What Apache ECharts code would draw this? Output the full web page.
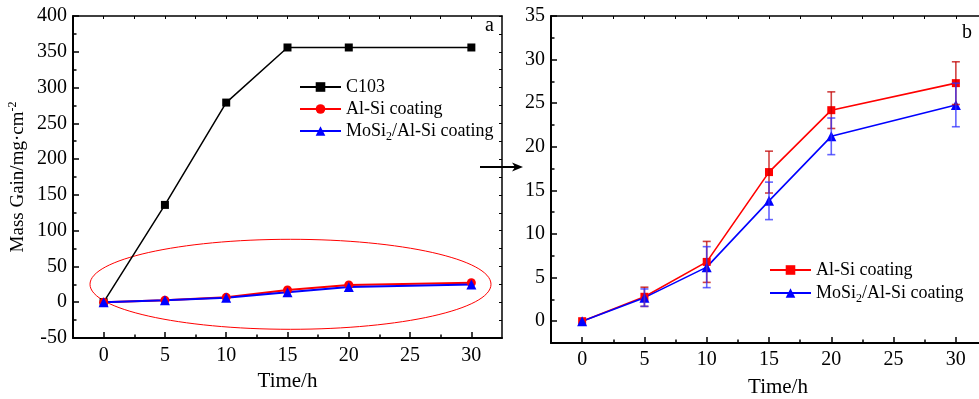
<!DOCTYPE html>
<html>
<head>
<meta charset="utf-8">
<script src="https://cdn.jsdelivr.net/npm/echarts@6/dist/echarts.min.js"></script>
<style>
html,body{margin:0;padding:0;background:#fff;}
#chart{width:979px;height:399px;}
</style>
</head>
<body>
<div id="chart"></div>
<script>
// ---- data ----
const times = [0, 5, 10, 15, 20, 30];
const c103 = [0, 136, 279, 356, 356, 356];
const alsi = [0, 2.8, 6.8, 17.1, 24.2, 27.3];
const mosi = [0, 2.7, 6.2, 13.8, 21.2, 24.8];
const alsiErr = [0, 1.1, 2.35, 2.4, 2.1, 2.45];
const mosiErr = [0, 1.0, 2.35, 2.15, 2.1, 2.5];
const xMajor = [0, 5, 10, 15, 20, 25, 30];
const xMinor = [2.5, 7.5, 12.5, 17.5, 22.5, 27.5];
const yRightMajor = [0, 5, 10, 15, 20, 25, 30, 35];
const yRightMinor = [2.5, 7.5, 12.5, 17.5, 22.5, 27.5, 32.5];
const legendNames = {
  'C103': 'C103',
  'Al-Si coating': 'Al-Si coating',
  'MoSi2/Al-Si coating': 'MoSi2/Al-Si coating',
  'Al-Si coating (b)': 'Al-Si coating',
  'MoSi2/Al-Si coating (b)': 'MoSi2/Al-Si coating'
};

const FONT = "'Liberation Serif', 'Times New Roman', serif";
const pair = (xs, ys) => xs.map((x, i) => [x, ys[i]]);
const triple = (xs, ys, es) => xs.map((x, i) => [x, ys[i], es[i]]);

function legendFmt(name) {
  const n = legendNames[name] || name;
  if (n.indexOf('MoSi2') === 0) {
    return '{n|MoSi}{sub|2}{n|' + n.slice(5) + '}';
  }
  return '{n|' + n + '}{sub| }';
}
const legendRich = {
  n: {fontFamily: FONT, fontSize: 18, color: '#000', lineHeight: 22},
  sub: {fontFamily: FONT, fontSize: 12, color: '#000', lineHeight: 10, padding: [12, 0, 0, 0]}
};

function errRender(color) {
  return function (params, api) {
    const x = api.value(0), y = api.value(1), e = api.value(2);
    if (!e) return null;
    const top = api.coord([x, y + e]);
    const bot = api.coord([x, y - e]);
    const hw = 4;
    const style = {stroke: color, lineWidth: 1.6, opacity: 0.75};
    return {
      type: 'group',
      children: [
        {type: 'line', shape: {x1: top[0], y1: top[1], x2: bot[0], y2: bot[1]}, style: style},
        {type: 'line', shape: {x1: top[0] - hw, y1: top[1], x2: top[0] + hw, y2: top[1]}, style: style},
        {type: 'line', shape: {x1: bot[0] - hw, y1: bot[1], x2: bot[0] + hw, y2: bot[1]}, style: style}
      ]
    };
  };
}

const axisLineBold = {show: true, onZero: false, lineStyle: {color: '#000', width: 2}};
const axisLineThin = {show: true, onZero: false, lineStyle: {color: '#000', width: 1.5}};
const noLine = {show: false, onZero: false};
const labelStyle = {fontFamily: FONT, fontSize: 20, color: '#000'};

const chart = echarts.init(document.getElementById('chart'), null, {renderer: 'canvas'});
chart.setOption({
  animation: false,
  backgroundColor: '#fff',
  grid: [
    {left: 73, top: 16, width: 429, height: 322, outerBoundsMode: 'none', containLabel: false},
    {left: 551, top: 16, width: 436, height: 327, outerBoundsMode: 'none', containLabel: false}
  ],
  xAxis: [
    {gridIndex: 0, type: 'value', min: -2.5, max: 32.5, position: 'bottom',
      axisLine: axisLineBold, splitLine: {show: false},
      axisTick: {show: true, inside: true, length: 6, customValues: xMajor, lineStyle: {color: '#000', width: 1.5}},
      axisLabel: Object.assign({customValues: xMajor, margin: 8}, labelStyle),
      name: 'Time/h', nameLocation: 'middle', nameGap: 29,
      nameTextStyle: {fontFamily: FONT, fontSize: 21, color: '#000'}},
    {gridIndex: 0, type: 'value', min: -2.5, max: 32.5, position: 'bottom',
      axisLine: noLine, splitLine: {show: false}, axisLabel: {show: false},
      axisTick: {show: true, inside: true, length: 3.5, customValues: xMinor, lineStyle: {color: '#000', width: 1.5}}},
    {gridIndex: 0, type: 'value', min: -2.5, max: 32.5, position: 'top',
      axisLine: axisLineThin, splitLine: {show: false}, axisLabel: {show: false},
      axisTick: {show: true, inside: true, length: 3, customValues: xMajor.concat(xMinor), lineStyle: {color: '#000', width: 1}}},
    {gridIndex: 1, type: 'value', min: -2.5, max: 32.5, position: 'bottom',
      axisLine: axisLineBold, splitLine: {show: false},
      axisTick: {show: true, inside: true, length: 6, customValues: xMajor, lineStyle: {color: '#000', width: 1.5}},
      axisLabel: Object.assign({customValues: xMajor, margin: 7}, labelStyle),
      name: 'Time/h', nameLocation: 'middle', nameGap: 34,
      nameTextStyle: {fontFamily: FONT, fontSize: 21, color: '#000', padding: [0, 0, 0, 18]}},
    {gridIndex: 1, type: 'value', min: -2.5, max: 32.5, position: 'bottom',
      axisLine: noLine, splitLine: {show: false}, axisLabel: {show: false},
      axisTick: {show: true, inside: true, length: 3.5, customValues: xMinor, lineStyle: {color: '#000', width: 1.5}}},
    {gridIndex: 1, type: 'value', min: -2.5, max: 32.5, position: 'top',
      axisLine: axisLineThin, splitLine: {show: false}, axisLabel: {show: false},
      axisTick: {show: true, inside: true, length: 3, customValues: xMajor.concat(xMinor), lineStyle: {color: '#000', width: 1}}}
  ],
  yAxis: [
    {gridIndex: 0, type: 'value', min: -50, max: 400, interval: 50, position: 'left',
      axisLine: axisLineBold, splitLine: {show: false},
      axisTick: {show: true, inside: true, length: 6, lineStyle: {color: '#000', width: 1.5}},
      minorTick: {show: true, splitNumber: 2, length: 3.5, lineStyle: {color: '#000', width: 1.5}},
      axisLabel: Object.assign({margin: 6}, labelStyle),
      name: '{n|Mass Gain/mg·cm}{sup|-2}', nameLocation: 'middle', nameGap: 44, nameRotate: 90,
      nameTextStyle: {rich: {
        n: {fontFamily: FONT, fontSize: 19, color: '#000'},
        sup: {fontFamily: FONT, fontSize: 12, color: '#000', verticalAlign: 'top', padding: [0, 0, 10, 0]}
      }}},
    {gridIndex: 0, type: 'value', min: -50, max: 400, interval: 50, position: 'right',
      axisLine: axisLineThin, splitLine: {show: false}, axisLabel: {show: false},
      axisTick: {show: true, inside: true, length: 3, lineStyle: {color: '#000', width: 1}},
      minorTick: {show: true, splitNumber: 2, length: 3, lineStyle: {color: '#000', width: 1}}},
    {gridIndex: 1, type: 'value', min: -2.5, max: 35, position: 'left',
      axisLine: axisLineBold, splitLine: {show: false},
      axisTick: {show: true, inside: true, length: 6, customValues: yRightMajor, lineStyle: {color: '#000', width: 1.5}},
      axisLabel: Object.assign({customValues: yRightMajor, margin: 6}, labelStyle)},
    {gridIndex: 1, type: 'value', min: -2.5, max: 35, position: 'left',
      axisLine: noLine, splitLine: {show: false}, axisLabel: {show: false},
      axisTick: {show: true, inside: true, length: 3.5, customValues: yRightMinor, lineStyle: {color: '#000', width: 1.5}}}
  ],
  legend: [
    {left: 294, top: 70, orient: 'vertical', itemWidth: 41, itemHeight: 12, itemGap: -2,
      data: ['C103', 'Al-Si coating', 'MoSi2/Al-Si coating'],
      formatter: legendFmt, textStyle: {rich: legendRich}},
    {left: 764, top: 253, orient: 'vertical', itemWidth: 41, itemHeight: 12, itemGap: -1,
      data: ['Al-Si coating (b)', 'MoSi2/Al-Si coating (b)'],
      formatter: legendFmt, textStyle: {rich: legendRich}}
  ],
  series: [
    {name: 'C103', type: 'line', xAxisIndex: 0, yAxisIndex: 0, data: pair(times, c103),
      symbol: 'rect', symbolSize: 8, color: '#000', lineStyle: {width: 1.5, color: '#000'}, itemStyle: {color: '#000'}},
    {name: 'Al-Si coating', type: 'line', xAxisIndex: 0, yAxisIndex: 0, data: pair(times, alsi),
      symbol: 'circle', symbolSize: 9, color: '#ff0000', lineStyle: {width: 2, color: '#ff0000'}, itemStyle: {color: '#ff0000'}},
    {name: 'MoSi2/Al-Si coating', type: 'line', xAxisIndex: 0, yAxisIndex: 0, data: pair(times, mosi),
      symbol: 'triangle', symbolSize: 10, color: '#0000ff', lineStyle: {width: 2, color: '#0000ff'}, itemStyle: {color: '#0000ff'}},
    {name: 'Al-Si coating (b)', type: 'line', xAxisIndex: 3, yAxisIndex: 2, data: pair(times, alsi),
      symbol: 'rect', symbolSize: 8, color: '#ff0000', lineStyle: {width: 1.6, color: '#ff0000'}, itemStyle: {color: '#ff0000'}, z: 2},
    {name: 'MoSi2/Al-Si coating (b)', type: 'line', xAxisIndex: 3, yAxisIndex: 2, data: pair(times, mosi),
      symbol: 'triangle', symbolSize: 10, color: '#0000ff', lineStyle: {width: 1.6, color: '#0000ff'}, itemStyle: {color: '#0000ff'}, z: 2},
    {name: 'errA', type: 'custom', xAxisIndex: 3, yAxisIndex: 2, data: triple(times, alsi, alsiErr),
      encode: {x: 0, y: 1}, renderItem: errRender('#c00000'), z: 3, silent: true},
    {name: 'errB', type: 'custom', xAxisIndex: 3, yAxisIndex: 2, data: triple(times, mosi, mosiErr),
      encode: {x: 0, y: 1}, renderItem: errRender('#3030ff'), z: 3, silent: true}
  ],
  graphic: [
    {type: 'ellipse', shape: {cx: 290.5, cy: 284.3, rx: 200.5, ry: 45},
      style: {fill: 'none', stroke: '#ff0000', lineWidth: 1}, z: 1},
    {type: 'line', shape: {x1: 480, y1: 167, x2: 519, y2: 167}, style: {stroke: '#000', lineWidth: 2}},
    {type: 'polygon', shape: {points: [[523, 167], [512, 162.5], [515, 167], [512, 171.5]]}, style: {fill: '#000'}},
    {type: 'text', left: 485, top: 16, style: {text: 'a', font: "20px 'Liberation Serif', serif", fill: '#000'}},
    {type: 'text', left: 962, top: 23, style: {text: 'b', font: "20px 'Liberation Serif', serif", fill: '#000'}}
  ]
});
</script>
</body>
</html>
